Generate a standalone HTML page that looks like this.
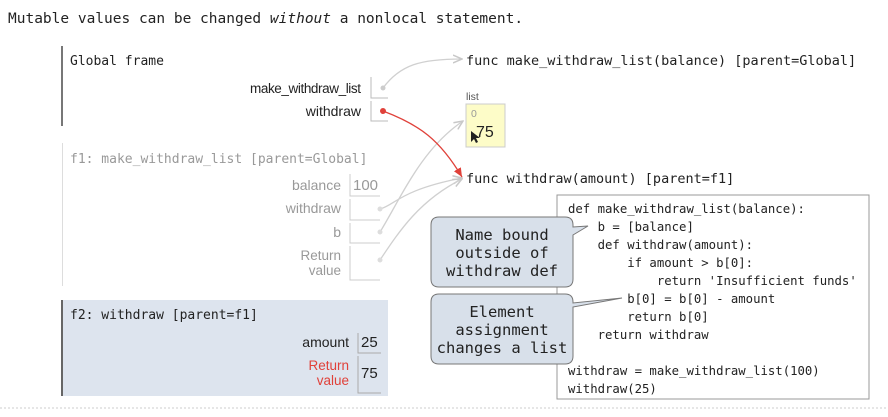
<!DOCTYPE html>
<html><head><meta charset="utf-8"><style>
html,body{margin:0;padding:0;background:#fff;}
svg{display:block}
.m{font-family:"DejaVu Sans Mono","Liberation Mono",monospace}
.s{font-family:"Liberation Sans","DejaVu Sans",sans-serif}
</style></head><body>
<svg width="888" height="417" viewBox="0 0 888 417" xmlns="http://www.w3.org/2000/svg">
<defs>
<marker id="ag" markerWidth="10" markerHeight="10" refX="9" refY="5" orient="auto" markerUnits="userSpaceOnUse"><path d="M0,1 L9,5 L0,9" fill="none" stroke="#c8c8c8" stroke-width="1.5"/></marker>
<marker id="ar" markerWidth="10" markerHeight="10" refX="9" refY="5" orient="auto" markerUnits="userSpaceOnUse"><path d="M0,1 L9,5 L0,9 z" fill="#e0413a"/></marker>
</defs>
<text x="8" y="23" class="m" font-size="14.5" fill="#222">Mutable values can be changed <tspan font-style="italic">without</tspan> a nonlocal statement.</text>

<rect x="61" y="46" width="2" height="80" fill="#777"/>
<text x="70" y="65" class="m" font-size="13" fill="#222">Global frame</text>
<text x="361" y="93" class="s" font-size="13.5" fill="#222" text-anchor="end" textLength="111">make_withdraw_list</text>
<text x="361" y="116" class="s" font-size="14" fill="#222" text-anchor="end">withdraw</text>
<path d="M371,77 V98 H388 M371,101 V121 H388" fill="none" stroke="#bbb"/>

<rect x="62" y="143" width="1" height="143" fill="#ddd"/>
<text x="70" y="163" class="m" font-size="13" fill="#999">f1: make_withdraw_list [parent=Global]</text>
<text x="341" y="190" class="s" font-size="14" fill="#999" text-anchor="end">balance</text>
<text x="353" y="190" class="s" font-size="15" fill="#999">100</text>
<text x="341" y="213" class="s" font-size="14" fill="#999" text-anchor="end">withdraw</text>
<text x="341" y="237" class="s" font-size="14" fill="#999" text-anchor="end">b</text>
<text x="341" y="260" class="s" font-size="13.5" fill="#999" text-anchor="end">Return</text>
<text x="341" y="275" class="s" font-size="13.5" fill="#999" text-anchor="end">value</text>
<path d="M350,174 V196 H380 M350,199 V220 H380 M350,223 V243 H380 M350,246 V280 H380" fill="none" stroke="#ccc"/>

<rect x="62" y="300" width="326" height="96" fill="#dde4ee"/>
<rect x="61" y="300" width="2" height="96" fill="#666"/>
<text x="70" y="319" class="m" font-size="13" fill="#222">f2: withdraw [parent=f1]</text>
<text x="349" y="347" class="s" font-size="14" fill="#222" text-anchor="end">amount</text>
<text x="361" y="347" class="s" font-size="15" fill="#222">25</text>
<text x="349" y="370" class="s" font-size="13.5" fill="#e0413a" text-anchor="end">Return</text>
<text x="349" y="385" class="s" font-size="13.5" fill="#e0413a" text-anchor="end">value</text>
<text x="361" y="378" class="s" font-size="15" fill="#222">75</text>
<path d="M358,333 V353 H381 M358,356 V393 H381" fill="none" stroke="#aaa"/>

<text x="466" y="65" class="m" font-size="13.5" fill="#222">func make_withdraw_list(balance) [parent=Global]</text>
<text x="466" y="183" class="m" font-size="13.5" fill="#222">func withdraw(amount) [parent=f1]</text>
<text x="466" y="100" class="s" font-size="10.5" fill="#555">list</text>
<rect x="466" y="104" width="39" height="43" fill="#fdfcc8" stroke="#ccc"/>
<text x="471" y="117" class="s" font-size="10.5" fill="#999">0</text>
<text x="476" y="137" class="s" font-size="16" fill="#222">75</text>
<path d="M471,131 l0,11 l3,-3 l2,4 l2,-1 l-2,-4 l4,0 z" fill="#222"/>

<g fill="none" stroke="#d0d0d0" stroke-width="1.3">
<path d="M383,88 C400,65 420,59 462,59" marker-end="url(#ag)"/>
<path d="M380,209 C395,205 400,190 462,178" marker-end="url(#ag)"/>
<path d="M380,232 C400,200 420,150 463,121" marker-end="url(#ag)"/>
<path d="M380,260 C400,230 420,200 462,179" marker-end="url(#ag)"/>
</g>
<circle cx="383" cy="88" r="2.5" fill="#ccc"/>
<circle cx="380" cy="209" r="2.5" fill="#ddd"/>
<circle cx="380" cy="232" r="2.5" fill="#ddd"/>
<circle cx="380" cy="260" r="2.5" fill="#ddd"/>
<path d="M383,111 C420,125 440,140 462,177" fill="none" stroke="#e0413a" stroke-width="1.3" marker-end="url(#ar)"/>
<circle cx="383" cy="111" r="3" fill="#e0413a"/>

<rect x="557" y="195" width="312" height="204" fill="#fff" stroke="#999"/>
<g class="m" font-size="12.3" fill="#222">
<text x="568" y="213" xml:space="preserve">def make_withdraw_list(balance):</text>
<text x="568" y="231" xml:space="preserve">    b = [balance]</text>
<text x="568" y="249" xml:space="preserve">    def withdraw(amount):</text>
<text x="568" y="267" xml:space="preserve">        if amount &gt; b[0]:</text>
<text x="568" y="285" xml:space="preserve">            return 'Insufficient funds'</text>
<text x="568" y="303" xml:space="preserve">        b[0] = b[0] - amount</text>
<text x="568" y="321" xml:space="preserve">        return b[0]</text>
<text x="568" y="339" xml:space="preserve">    return withdraw</text>
<text x="568" y="375" xml:space="preserve">withdraw = make_withdraw_list(100)</text>
<text x="568" y="393" xml:space="preserve">withdraw(25)</text>
</g>

<path d="M439,217 H565 Q573,217 573,225 V227 L588,226 L573,235 V279 Q573,287 565,287 H439 Q431,287 431,279 V225 Q431,217 439,217 Z" fill="#d8e0ea" stroke="#777"/>
<g class="m" font-size="15.5" fill="#222" text-anchor="middle">
<text x="502" y="240">Name bound</text>
<text x="502" y="258">outside of</text>
<text x="502" y="276">withdraw def</text>
</g>
<path d="M439,294 H565 Q573,294 573,302 V303 L622,298 L573,307 V356 Q573,364 565,364 H439 Q431,364 431,356 V302 Q431,294 439,294 Z" fill="#d8e0ea" stroke="#777"/>
<g class="m" font-size="15.5" fill="#222" text-anchor="middle">
<text x="502" y="317">Element</text>
<text x="502" y="335">assignment</text>
<text x="502" y="353">changes a list</text>
</g>
<line x1="0" y1="408" x2="888" y2="408" stroke="#ccc" stroke-dasharray="2,2"/>
</svg>
</body></html>
